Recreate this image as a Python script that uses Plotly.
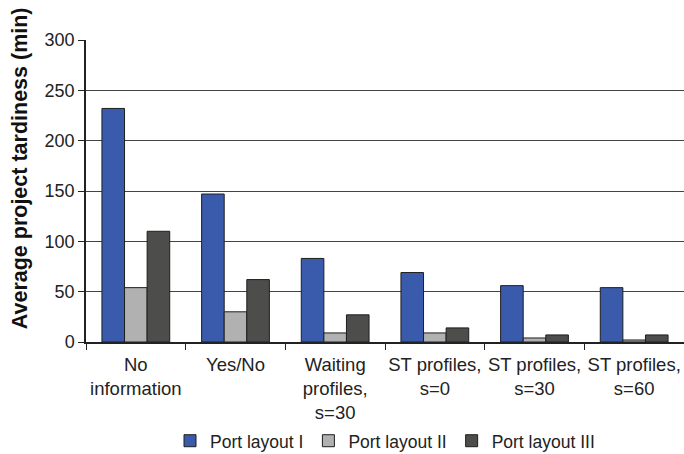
import plotly.graph_objects as go

categories = ["No<br>information", "Yes/No", "Waiting<br>profiles,<br>s=30",
              "ST profiles,<br>s=0", "ST profiles,<br>s=30", "ST profiles,<br>s=60"]
layout_I = [232, 147, 83, 69, 56, 54]
layout_II = [54, 30, 9, 9, 4, 2]
layout_III = [110, 62, 27, 14, 7, 7]
series_names = ["Port layout I", "Port layout II", "Port layout III"]
colors = ["#3A5BAC", "#B0B1B0", "#4D4D4B"]
y_title = "Average project tardiness (min)"

fig = go.Figure()
for name, vals, col in zip(series_names, [layout_I, layout_II, layout_III], colors):
    fig.add_trace(go.Bar(x=categories, y=vals, name=name, marker_color=col,
                         marker_line_color="#1E1E1E", marker_line_width=1))

font = "Liberation Sans, Arial, sans-serif"
fig.update_layout(
    width=684, height=454,
    margin=dict(l=86, r=0, t=40, b=112),
    paper_bgcolor="white", plot_bgcolor="white",
    barmode="group", bargap=0.32, bargroupgap=0,
    font=dict(family=font, size=18, color="#222"),
    showlegend=True,
    legend=dict(orientation="h", x=0.5, xanchor="center", xref="paper",
                y=0.029, yanchor="middle", yref="container",
                font=dict(size=17.5, color="#222"), itemwidth=30,
                tracegroupgap=0, itemclick=False),
    xaxis=dict(showline=True, linecolor="#222", linewidth=1.5, ticks="outside",
               tickson="boundaries", ticklen=6, tickcolor="#222", automargin=False,
               ticklabelstandoff=5, tickangle=0,
               tickfont=dict(size=18.5, color="#222"), showgrid=False),
    yaxis=dict(range=[0, 300], dtick=50, showline=True, linecolor="#222", linewidth=1.5,
               ticks="outside", ticklen=6, tickcolor="#222", showgrid=True, automargin=False,
               gridcolor="#444", gridwidth=1, tickfont=dict(size=18, color="#222"),
               zeroline=False),
    annotations=[dict(text="<b>" + y_title + "</b>", textangle=-90, showarrow=False,
                      xref="paper", yref="paper", x=-0.110, y=0.576,
                      xanchor="center", yanchor="middle",
                      font=dict(size=21.5, color="#111", family=font))],
)
fig.write_html("out.html", config={"displayModeBar": False},
               post_script="document.body.style.margin='0';document.body.style.overflow='hidden';")
